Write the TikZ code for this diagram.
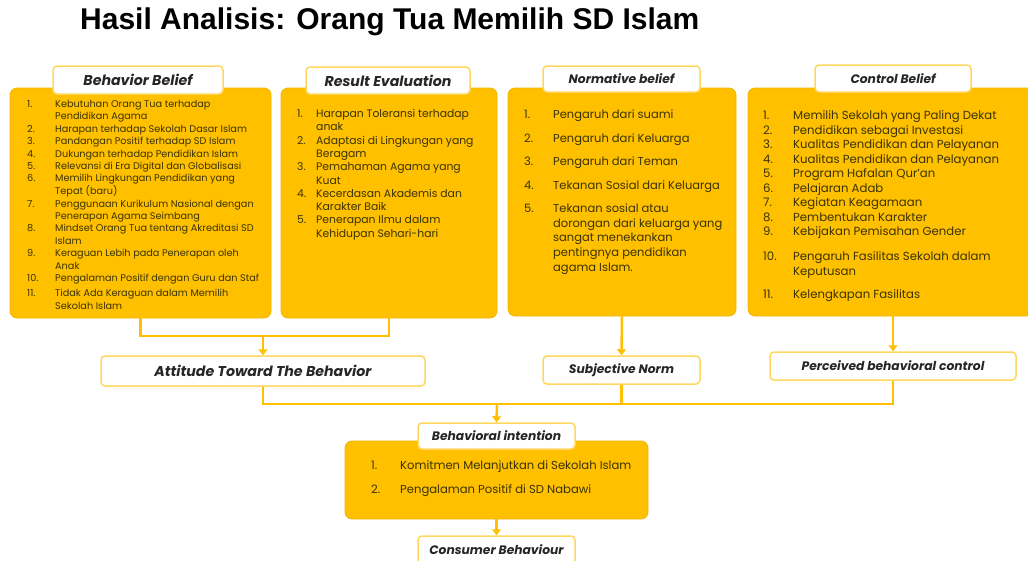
\documentclass[tikz,border=0pt]{standalone}
\usepackage{fontspec}
\setmainfont{Poppins}
\newfontfamily\titlefont{Liberation Sans}
\usetikzlibrary{arrows.meta}
\definecolor{gold}{HTML}{FFC000}
\definecolor{goldline}{HTML}{F2B600}
\definecolor{tagline}{HTML}{FFD75E}
\definecolor{itemtext}{HTML}{3B3300}
\newcommand{\numlist}[2]{\begin{tabular}[t]{@{}p{#1}@{}l@{}}#2\end{tabular}}
\tikzset{
  panel/.style={fill=gold, draw=goldline, line width=0.8pt, rounded corners=7pt},
  tag/.style={fill=white, draw=tagline, line width=1.5pt, rounded corners=4pt,
    font=\fontsize{14.2}{16}\selectfont\bfseries\itshape, text=black!85, inner sep=0pt},
  smalltag/.style={tag, font=\fontsize{12.3}{14}\selectfont\bfseries\itshape},
  items/.style={anchor=base west, inner sep=0pt, text=itemtext},
  link/.style={draw=gold, line width=2.5pt},
  arr/.style={link, -{Triangle[width=9pt,length=6pt]}}
}
\begin{document}
\begin{tikzpicture}[x=1pt,y=-1pt]
\useasboundingbox (0,0) rectangle (1028,560);
\node[font=\titlefont\bfseries\fontsize{30}{34}\selectfont, anchor=west, inner sep=0pt] (title) at (80,22) {Hasil Analisis: Orang Tua Memilih SD Islam};

% belief panels
\node[panel, minimum width=261, minimum height=230] (bb) at (140.5,203) {};
\node[panel, minimum width=216, minimum height=230] (re) at (389,203) {};
\node[panel, minimum width=228, minimum height=228] (nb) at (622,202) {};
\node[panel, minimum width=290, minimum height=228] (cb) at (893,202) {};
\node[tag, minimum width=170, minimum height=28] (bbtag) at (138,80) {Behavior Belief};
\node[tag, minimum width=164, minimum height=27] (retag) at (388,80.5) {Result Evaluation};
\node[smalltag, minimum width=157, minimum height=26] (nbtag) at (621.5,79) {Normative belief};
\node[smalltag, minimum width=156, minimum height=27] (cbtag) at (893,78.5) {Control Belief};

\node[items, font=\fontsize{9.7}{12.4}\selectfont] (bbtext) at (27,107.5) {\numlist{28pt}{
1. & Kebutuhan Orang Tua terhadap\\
 & Pendidikan Agama\\
2. & Harapan terhadap Sekolah Dasar Islam\\
3. & Pandangan Positif terhadap SD Islam\\
4. & Dukungan terhadap Pendidikan Islam\\
5. & Relevansi di Era Digital dan Globalisasi\\
6. & Memilih Lingkungan Pendidikan yang\\
 & Tepat (baru)\\
7. & Penggunaan Kurikulum Nasional dengan\\
 & Penerapan Agama Seimbang\\
8. & Mindset Orang Tua tentang Akreditasi SD\\
 & Islam\\
9. & Keraguan Lebih pada Penerapan oleh\\
 & Anak\\
10. & Pengalaman Positif dengan Guru dan Staf\\[3pt]
11. & Tidak Ada Keraguan dalam Memilih\\
 & Sekolah Islam}};
\node[items, font=\fontsize{10.8}{13.3}\selectfont] (retext) at (297,117.5) {\numlist{19pt}{
1. & Harapan Toleransi terhadap\\
 & anak\\
2. & Adaptasi di Lingkungan yang\\
 & Beragam\\
3. & Pemahaman Agama yang\\
 & Kuat\\
4. & Kecerdasan Akademis dan\\
 & Karakter Baik\\
5. & Penerapan Ilmu dalam\\
 & Kehidupan Sehari-hari}};
\node[items, font=\fontsize{11.5}{14.7}\selectfont] (nbtext) at (524,118.5) {\numlist{29pt}{
1. & Pengaruh dari suami\\[8.8pt]
2. & Pengaruh dari Keluarga\\[8.8pt]
3. & Pengaruh dari Teman\\[8.8pt]
4. & Tekanan Sosial dari Keluarga\\[8.8pt]
5. & Tekanan sosial atau\\
 & dorongan dari keluarga yang\\
 & sangat menekankan\\
 & pentingnya pendidikan\\
 & agama Islam.}};
\node[items, font=\fontsize{11.7}{14.5}\selectfont] (cbtext) at (763,119.5) {\numlist{30pt}{
1. & Memilih Sekolah yang Paling Dekat\\
2. & Pendidikan sebagai Investasi\\
3. & Kualitas Pendidikan dan Pelayanan\\
4. & Kualitas Pendidikan dan Pelayanan\\
5. & Program Hafalan Qur'an\\
6. & Pelajaran Adab\\
7. & Kegiatan Keagamaan\\
8. & Pembentukan Karakter\\
9. & Kebijakan Pemisahan Gender\\[10.5pt]
10. & Pengaruh Fasilitas Sekolah dalam\\
 & Keputusan\\[8.5pt]
11. & Kelengkapan Fasilitas}};

% middle row
\node[tag, minimum width=324, minimum height=30] (att) at (263,371) {Attitude Toward The Behavior};
\node[smalltag, minimum width=157, minimum height=28] (sn) at (621.5,370) {Subjective Norm};
\node[smalltag, minimum width=246, minimum height=28] (pbc) at (893,366) {Perceived behavioral control};

% intention
\node[panel, minimum width=303, minimum height=78] (bi) at (496.5,480) {};
\node[smalltag, minimum width=157, minimum height=26] (bitag) at (496.5,436) {Behavioral intention};
\node[items, font=\fontsize{11.6}{24}\selectfont] (bitext) at (371,469.5) {\numlist{29pt}{
1. & Komitmen Melanjutkan di Sekolah Islam\\
2. & Pengalaman Positif di SD Nabawi}};
\node[smalltag, minimum width=157, minimum height=28] (cons) at (496.5,550) {Consumer Behaviour};

% connectors
\coordinate (j1) at (263,336);
\coordinate (j2) at (497,404);
\draw[link] (bb.south) -- (bb.south |- j1) -- (re.south |- j1) -- (re.south);
\draw[arr] (j1) -- (att.north);
\draw[arr] (nb.south) -- (sn.north);
\draw[arr] (pbc.north |- cb.south) -- (pbc.north);
\draw[link] (att.south) -- (att.south |- j2) -- (pbc.south |- j2) -- (pbc.south);
\draw[link] (sn.south) -- (sn.south |- j2);
\draw[arr] (j2) -- (bitag.north);
\draw[arr] (bi.south) -- (cons.north);
\end{tikzpicture}
\end{document}
